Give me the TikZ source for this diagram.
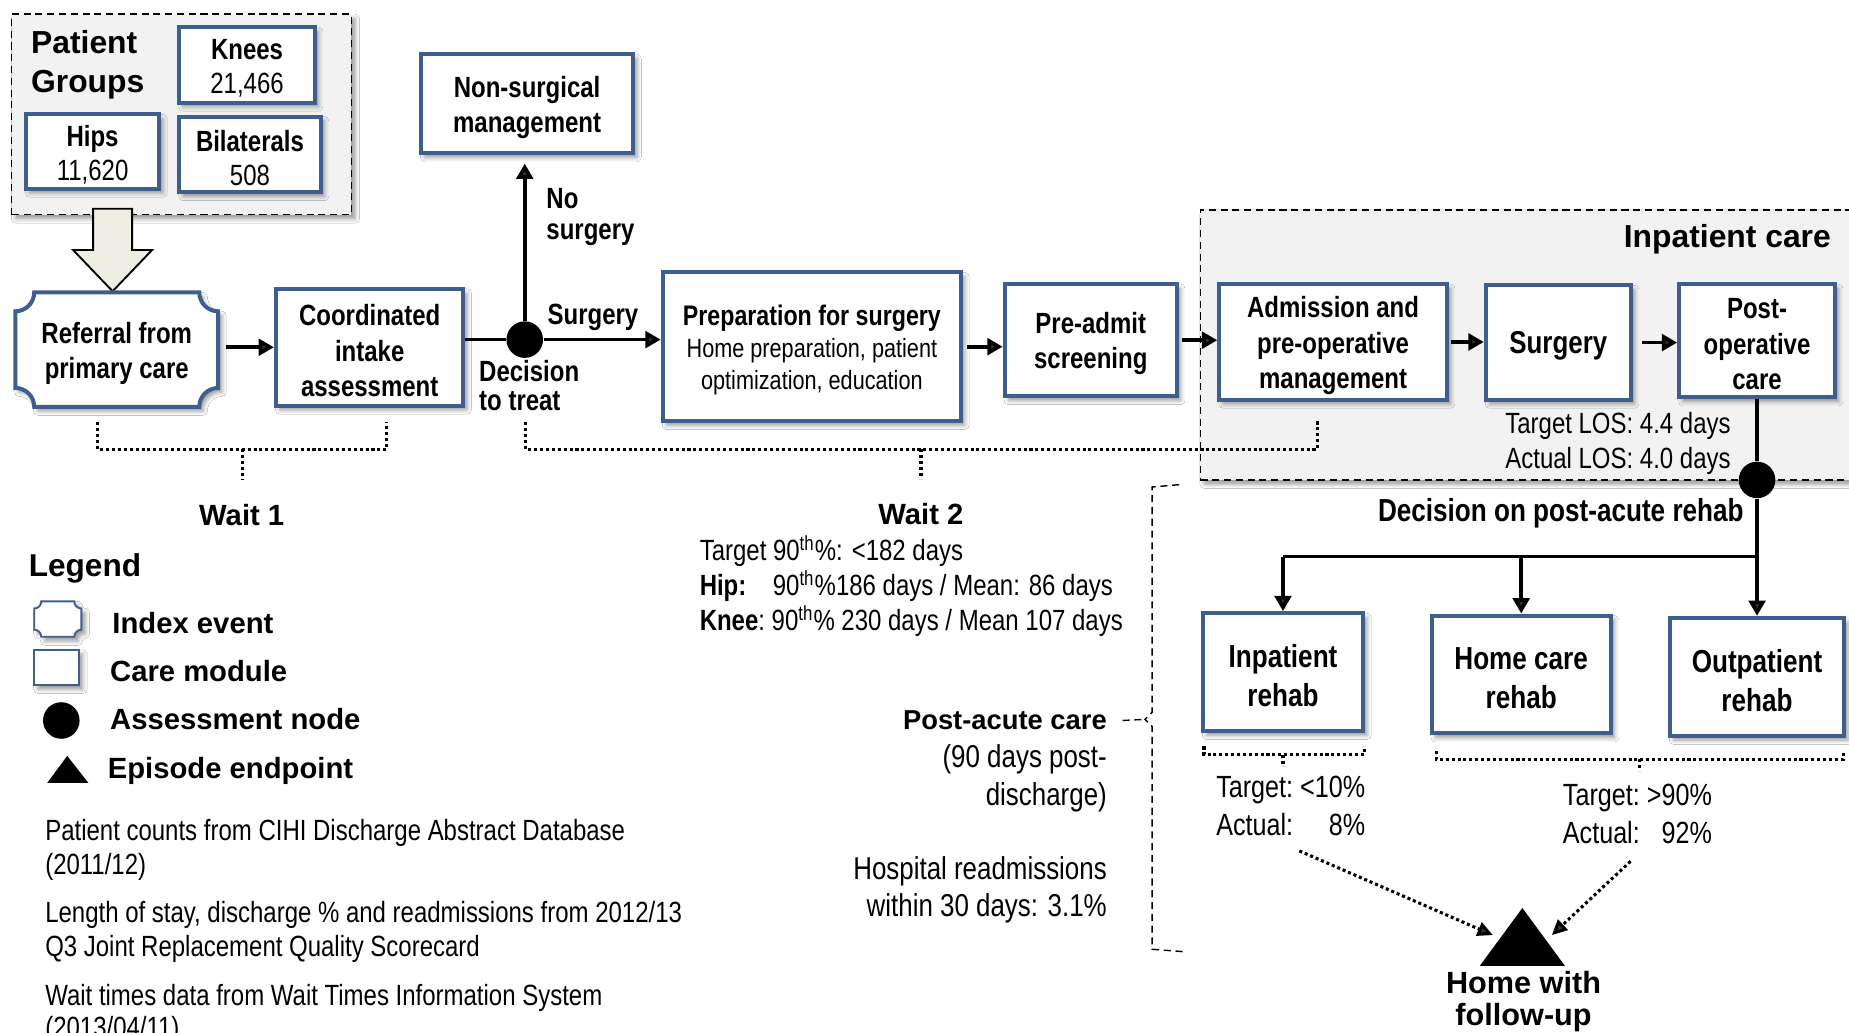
\documentclass[tikz,border=0pt]{standalone}
\usepackage{fontspec}
\setmainfont{Liberation Sans}[FakeStretch=0.82]
\newfontfamily\widefont{Liberation Sans}
\usetikzlibrary{arrows.meta,calc,fit,shadows.blur}

\definecolor{boxblue}{RGB}{62,95,142}
\definecolor{panelgray}{RGB}{242,242,242}
\definecolor{arrowfill}{RGB}{238,238,226}

% outline of an "index event": a rectangle with concave corners
\newcommand\plaquepath[5]{%
  (#1+#5,#2) -- (#3-#5,#2) arc[start angle=180,end angle=90,radius=#5]
  -- (#3,#4-#5) arc[start angle=270,end angle=180,radius=#5]
  -- (#1+#5,#4) arc[start angle=0,end angle=-90,radius=#5]
  -- (#1,#2+#5) arc[start angle=90,end angle=0,radius=#5] -- cycle}

% a care-module box given by its corners: [font options]{name}{x0}{y0}{x1}{y1}{text}
\newcommand\modnode[7][]{%
  \node[modbox,minimum width={(#5-#3)*0.5pt},minimum height={(#6-#4)*0.5pt}]
    (#2) at ({(#3+#5)/2},{(#4+#6)/2}) {};
  \node[boxtext,#1] (#2-text) at ([yshift=-1.5pt]#2.center) {#7};}

\tikzset{
  shade box/.style={blur shadow={shadow xshift=1.6pt,shadow yshift=-1.8pt,
      shadow blur radius=1.8pt,shadow opacity=40}},
  modbox/.style={draw=boxblue,line width=1.7pt,fill=white,inner sep=0pt,shade box},
  boxtext/.style={inner sep=0pt,align=center,font=\bfseries\fontsize{12.4}{15}\selectfont},
  panel/.style={draw=black,line width=0.6pt,dash pattern=on 3pt off 2pt,
      fill=panelgray,shade box,inner sep=0pt},
  flow/.style={line width=1.6pt},
  flowarrow/.style={flow,-{Triangle[length=6.5pt,width=7pt]}},
  waitline/.style={line width=1.3pt,dash pattern=on 1.3pt off 1.2pt},
  dotarrow/.style={waitline,-{Triangle[length=6.5pt,width=6pt]}},
  bracedash/.style={line width=0.6pt,dash pattern=on 3pt off 2pt},
  dot/.style={circle,fill=black,inner sep=0pt,minimum size=15.5pt},
  lbl/.style={inner sep=0pt,align=left,font=\bfseries\fontsize{12.4}{13}\selectfont},
  txt/.style={inner sep=0pt,font=\fontsize{12.4}{15}\selectfont},
  widebold/.style={inner sep=0pt,font=\widefont\bfseries\fontsize{12.4}{14}\selectfont},
}

\begin{document}
\begin{tikzpicture}[x=0.5pt,y=-0.5pt]
\clip (0,0) rectangle (1568,876);
\fill[white] (0,0) rectangle (1568,876);

% ---------- patient groups ----------
\node[panel,fit={(10,12) (298,182)}] (groups) {};
\node[inner sep=0pt,anchor=west,align=left,
      font=\widefont\bfseries\fontsize{13.5}{16.5}\selectfont] (grouptitle) at (26,55) {Patient\\Groups};
\modnode[font=\fontsize{12.4}{14.5}\selectfont]{knees}{152}{23}{267}{87}{\textbf{Knees}\\21,466}
\modnode[font=\fontsize{12.4}{14.5}\selectfont]{hips}{22}{97}{135}{160}{\textbf{Hips}\\11,620}
\modnode[font=\fontsize{12.4}{14.5}\selectfont]{bilat}{152}{99}{272}{163}{\textbf{Bilaterals}\\508}

% block arrow into the referral
\draw[line width=0.8pt,fill=arrowfill] (79,177) -- (112,177) -- (112,212) -- (129,212)
  -- (95.5,247) -- (62,212) -- (79,212) -- cycle;

% ---------- referral and intake ----------
\path[draw=boxblue,line width=1.7pt,fill=white,shade box] \plaquepath{13}{248}{185}{345}{16};
\node[boxtext,minimum width=86pt] (referral) at (99,299.5) {Referral from\\primary care};
\modnode{intake}{234}{245}{393}{344}{Coordinated\\intake\\assessment}
\modnode{nonsurg}{357}{46}{537}{130}{Non-surgical\\management}
\modnode[font=\fontsize{11.2}{13.5}\selectfont]{prep}{562}{231}{815}{357}
  {{\bfseries\fontsize{12}{13.5}\selectfont Preparation for surgery}\\Home preparation, patient\\optimization, education}
\modnode{preadmit}{852}{241}{998}{336}{Pre-admit\\screening}

\node[dot] (dtt) at (445,288) {};

\draw[flowarrow,shorten <=3pt] (referral.east |- intake.west) -- (intake.west);
\draw[flow] (intake.east |- dtt) -- (dtt);
\draw[flowarrow] (dtt) -- (dtt -| prep.west);
\draw[flowarrow,shorten >=3.5pt] (dtt) -- (dtt |- nonsurg.south);
\draw[flowarrow,shorten <=1.5pt] (prep.east) -- (prep.east -| preadmit.west);

\node[lbl,anchor=west] (nolbl) at (463,184) {No\\surgery};
\node[lbl,anchor=west] (surglbl) at (464,269) {Surgery};
\node[lbl,anchor=west,font=\bfseries\fontsize{12.4}{12.5}\selectfont] (dttlbl) at (406,327) {Decision\\to treat};

% ---------- inpatient care ----------
\node[panel,fit={(1018,178) (1600,407)}] (inpatient) {};
\node[inner sep=0pt,anchor=east,font=\widefont\bfseries\fontsize{13.5}{16}\selectfont] (inpttitle) at (1553,203) {Inpatient care};
\modnode{admit}{1034}{241}{1227}{339}{Admission and\\pre-operative\\management}
\modnode[font=\bfseries\fontsize{13.4}{15}\selectfont]{surgery}{1260}{242}{1383}{339}{Surgery}
\modnode{postop}{1424}{241}{1556}{337}{Post-\\operative\\care}

\draw[flowarrow,shorten <=1.5pt] (preadmit.east) -- (preadmit.east -| admit.west);
\draw[flowarrow,shorten <=1pt] (admit.east) -- (admit.east -| surgery.west);
\draw[flowarrow,shorten <=4pt] (surgery.east) -- (surgery.east -| postop.west);

\node[txt,anchor=east,align=right] (los) at (1468,376) {Target LOS: 4.4 days\\Actual LOS: 4.0 days};

% ---------- waits ----------
\draw[waitline] (83,358) -- (83,381) -- (328,381) -- (328,358);
\draw[waitline] (206,381) -- (206,407);
\node[widebold] (wait1) at (205,437) {Wait 1};

\draw[waitline] (446,358) -- (446,381) -- (1117,381) -- (1117,356);
\draw[waitline] (781,381) -- (781,406);
\node[widebold] (wait2) at (781,436) {Wait 2};
\node[txt,anchor=west,align=left,font=\fontsize{12.4}{14.75}\selectfont] (wait2txt) at (593,497)
  {Target 90\textsuperscript{th}\%: <182 days\\\makebox[31pt][l]{\textbf{Hip:}}90\textsuperscript{th}\%186 days / Mean: 86 days\\\makebox[30.5pt][l]{\textbf{Knee}:}90\textsuperscript{th}\% 230 days / Mean 107 days};

% ---------- post-acute decision ----------
\node[dot] (dpa) at (1490,407) {};
\coordinate (split) at (1490,472);
\node[inner sep=0pt,anchor=east,font=\bfseries\fontsize{13.5}{15}\selectfont] (dpalbl) at (1479,435) {Decision on post-acute rehab};

\modnode[font=\bfseries\fontsize{13.5}{16.5}\selectfont]{inrehab}{1020}{520}{1156}{620}{Inpatient\\rehab}
\modnode[font=\bfseries\fontsize{13.5}{16.5}\selectfont]{homerehab}{1214}{522}{1366}{622}{Home care\\rehab}
\modnode[font=\bfseries\fontsize{13.5}{16.5}\selectfont]{outrehab}{1416}{524}{1564}{624}{Outpatient\\rehab}

\draw[flow] (postop.south) -- (dpa);
\draw[flow] (dpa) -- (split);
\draw[flow] (split) -- (split -| inrehab.north);
\draw[flowarrow] (split) -- (outrehab.north);
\draw[flowarrow] (split -| inrehab.north) -- (inrehab.north);
\draw[flowarrow] (split -| homerehab.north) -- (homerehab.north);

\draw[waitline] (1021,633) -- (1021,640) -- (1157,640) -- (1157,633);
\draw[waitline] (1088,640) -- (1088,650);
\draw[waitline] (1218,637) -- (1218,644) -- (1563,644) -- (1563,637);
\draw[waitline] (1390,644) -- (1390,654);

\node[txt,anchor=west,font=\fontsize{13}{16}\selectfont] (inpct) at (1031,686)
  {\begin{tabular}{@{}l@{\hspace{3pt}}r@{}}Target: & <10\%\\Actual: & 8\%\end{tabular}};
\node[txt,anchor=west,font=\fontsize{13}{16}\selectfont] (outpct) at (1325,692.5)
  {\begin{tabular}{@{}l@{\hspace{3pt}}r@{}}Target: & >90\%\\Actual: & 92\%\end{tabular}};

% ---------- episode end ----------
\fill (1291,770) -- (1327,819) -- (1255,819) -- cycle;
\coordinate (homeL) at (1266,793);
\coordinate (homeR) at (1316,793);
\node[inner sep=0pt,align=center,font=\widefont\bfseries\fontsize{13}{13.5}\selectfont] (hometxt) at (1292,849.5) {Home with\\follow-up};
\draw[dotarrow,shorten <=4pt] (inpct.south) -- (homeL);
\draw[dotarrow,shorten <=4pt] (outpct.south) -- (homeR);

% ---------- post-acute care ----------
\coordinate (bracetip) at (971,610);
\draw[bracedash] (1000,411) -- (977,413) -- (977,604) -- (bracetip) -- (977,616) -- (977,805) -- (1003,807);
\node[widebold,anchor=east,font=\widefont\bfseries\fontsize{11.6}{14}\selectfont] (pac) at (939,611) {Post-acute care};
\draw[bracedash] ([xshift=6.5pt]pac.east) -- (bracetip);
\node[txt,anchor=east,align=right,font=\fontsize{13.4}{16}\selectfont] (pacdur) at (939,660) {(90 days post-\\discharge)};
\node[txt,anchor=east,align=right,font=\fontsize{13.4}{15.5}\selectfont] (readm) at (939,754.5) {Hospital readmissions\\within 30 days: 3.1\%};

% ---------- legend ----------
\node[widebold,anchor=west,font=\widefont\bfseries\fontsize{13.4}{15}\selectfont] (legend) at (24,482) {Legend};
\path[draw=boxblue,line width=0.8pt,fill=white,shade box] \plaquepath{29}{510}{69}{540}{6};
\node[widebold,anchor=west] (idxlbl) at (95,528) {Index event};
\node[draw=boxblue,line width=0.8pt,fill=white,shade box,inner sep=0pt,fit={(29,551) (67,581)}] (careicon) {};
\node[widebold,anchor=west] (carelbl) at (93,569) {Care module};
\node[dot] (legdot) at (52,611) {};
\node[widebold,anchor=west] (asslbl) at (93,610) {Assessment node};
\fill (57,641) -- (75,664) -- (40,664) -- cycle;
\node[widebold,anchor=west] (eplbl) at (91,654) {Episode endpoint};

% ---------- sources ----------
\node[txt,anchor=west,align=left,font=\fontsize{12.4}{14.5}\selectfont] (note1) at (38,720.5)
  {Patient counts from CIHI Discharge Abstract Database\\(2011/12)};
\node[txt,anchor=west,align=left,font=\fontsize{12.4}{14.5}\selectfont] (note2) at (38,790.5)
  {Length of stay, discharge \% and readmissions from 2012/13\\Q3 Joint Replacement Quality Scorecard};
\node[txt,anchor=west,align=left,font=\fontsize{12.4}{13.5}\selectfont] (note3) at (38,860)
  {Wait times data from Wait Times Information System\\(2013/04/11)};
\end{tikzpicture}
\end{document}
